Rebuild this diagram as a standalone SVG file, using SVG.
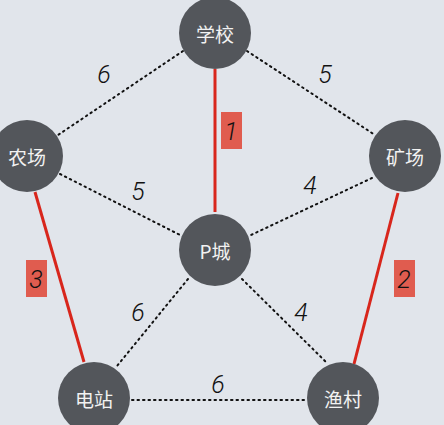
<svg xmlns="http://www.w3.org/2000/svg" width="444" height="425" viewBox="0 0 444 425">
<style>
.node circle{fill:#53565b}
.node text{fill:#f2f2f2;font-family:"Noto Sans CJK SC","Liberation Sans",sans-serif;font-size:19px;text-anchor:middle;dominant-baseline:central}
.dot{stroke:#111;stroke-width:2;stroke-dasharray:1.5 4;stroke-linecap:round;fill:none}
.red{stroke:#d8261c;stroke-width:3;fill:none}
.lbl{font-family:Roboto,"Liberation Sans",sans-serif;font-weight:300;font-style:italic;font-size:25px;fill:#111;text-anchor:middle}
.box{fill:#e05c4f}
</style>
<rect width="444" height="425" fill="#e1e5eb"/>
<g id="connectors">
<line class="dot" x1="183" y1="51" x2="58" y2="135"/>
<line class="dot" x1="247" y1="51" x2="375" y2="135"/>
<line class="dot" x1="60" y1="174" x2="182" y2="236"/>
<line class="dot" x1="372" y1="178" x2="251" y2="235"/>
<line class="dot" x1="188" y1="279" x2="117" y2="366"/>
<line class="dot" x1="242" y1="279" x2="326" y2="362"/>
<line class="dot" x1="132" y1="400" x2="306" y2="400"/>
<line class="red" x1="215" y1="69" x2="215" y2="212"/>
<line class="red" x1="35" y1="192" x2="84" y2="362"/>
<line class="red" x1="398" y1="193" x2="354" y2="364"/>
<text class="lbl" x="104" y="83">6</text>
<text class="lbl" x="325" y="83">5</text>
<text class="lbl" x="138" y="200">5</text>
<text class="lbl" x="310" y="194">4</text>
<text class="lbl" x="138" y="321">6</text>
<text class="lbl" x="301" y="321">4</text>
<text class="lbl" x="218" y="393">6</text>
<rect class="box" x="221" y="112" width="21" height="37"/>
<text class="lbl" x="231" y="140">1</text>
<rect class="box" x="26" y="260" width="21" height="37"/>
<text class="lbl" x="36" y="288">3</text>
<rect class="box" x="394" y="260" width="21" height="37"/>
<text class="lbl" x="404" y="288">2</text>
</g>
<g id="n-school" class="node"><circle cx="215" cy="33" r="36"/><text x="215" y="33">学校</text></g>
<g id="n-farm" class="node"><circle cx="27" cy="156" r="36"/><text x="27" y="156">农场</text></g>
<g id="n-mine" class="node"><circle cx="405" cy="156" r="36"/><text x="405" y="156">矿场</text></g>
<g id="n-pcity" class="node"><circle cx="215" cy="250" r="36"/><text x="215" y="250">P城</text></g>
<g id="n-power" class="node"><circle cx="94" cy="398" r="36"/><text x="94" y="398">电站</text></g>
<g id="n-fish" class="node"><circle cx="343" cy="398" r="36"/><text x="343" y="398">渔村</text></g>
</svg>
